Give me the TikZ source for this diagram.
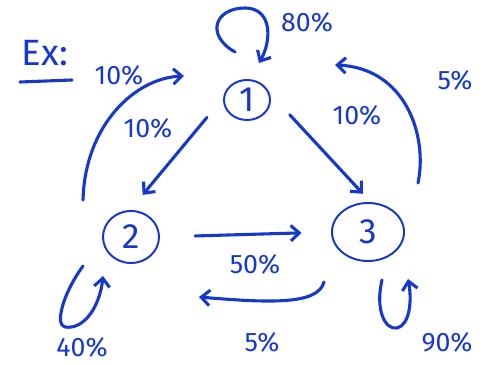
\documentclass[tikz,border=0pt]{standalone}
\usepackage{fontspec}
\setmainfont{Fira Sans}
\usetikzlibrary{arrows.meta,shapes.geometric}
\definecolor{ink}{RGB}{22,56,204}

\begin{document}
\begin{tikzpicture}[x=0.025cm,y=-0.025cm,
    line cap=round, line join=round,
    state/.style={ellipse,draw=ink,line width=1.4pt,inner sep=0pt,text=ink,font=\fontsize{25}{27}\selectfont},
    arr/.style={draw=ink,line width=2.2pt,-{Straight Barb[length=6pt,width=11pt]}},
    pct/.style={text=ink,font=\fontsize{19}{21}\selectfont}]
    \useasboundingbox (0,0) rectangle (484,365);
    % states
    \node[state,minimum width=1.15cm,minimum height=1cm] (n1) at (247,100) {1};
    \node[state,minimum width=1.4cm,minimum height=1.3cm] (n2) at (131,237) {2};
    \node[state,minimum width=1.8cm,minimum height=1.45cm] (n3) at (368,232) {3};
    % Ex:
    \node[text=ink,font=\fontsize{26}{28}\selectfont] (ex) at (45,53) {Ex:};
    \draw[ink,line width=2.2pt] (20,82)--(72,80);
    % ends of the curved arrows
    \coordinate (l1s) at (235,52);
    \coordinate (l1e) at (259,63);
    \coordinate (c21s) at (83,200);
    \coordinate (c21e) at (184,76);
    \coordinate (c31s) at (418,183);
    \coordinate (c31e) at (335,65);
    \coordinate (c32s) at (324,282);
    \coordinate (c32e) at (199,297);
    \coordinate (l2s) at (83,266);
    \coordinate (l2e) at (103,276);
    \coordinate (l3s) at (382,280);
    \coordinate (l3e) at (408,279);
    % arrows
    \draw[arr,shorten <=18pt,shorten >=14pt] (n1.175)--(n2.92);
    \draw[arr,shorten <=21pt,shorten >=8pt] (n1.17)--(n3.85);
    \draw[arr,shorten <=25pt,shorten >=21pt] (n2.east)--(n3.west);
    \draw[arr] (l1s) .. controls (205,35) and (215,8) .. (245,8)
        .. controls (272,8) and (272,40) .. (l1e);
    \draw[arr] (c21s) .. controls (85,125) and (135,78) .. (c21e);
    \draw[arr] (c31s) .. controls (428,135) and (405,68) .. (c31e);
    \draw[arr] (c32s) .. controls (318,305) and (270,303) .. (c32e);
    \draw[arr] (l2s) .. controls (62,295) and (55,325) .. (65,327)
        .. controls (85,330) and (100,305) .. (l2e);
    \draw[arr] (l3s) .. controls (375,310) and (385,330) .. (397,328)
        .. controls (410,325) and (412,300) .. (l3e);
    % labels
    \node[pct] (p11) at (307,22) {80\%};
    \node[pct] (p21) at (119,75) {10\%};
    \node[pct] (p12) at (148,128) {10\%};
    \node[pct] (p13) at (357,115) {10\%};
    \node[pct] (p31) at (455,80) {5\%};
    \node[pct] (p23) at (255,264) {50\%};
    \node[pct] (p32) at (262,342) {5\%};
    \node[pct] (p22) at (82,347) {40\%};
    \node[pct] (p33) at (447,342) {90\%};
\end{tikzpicture}
\end{document}
